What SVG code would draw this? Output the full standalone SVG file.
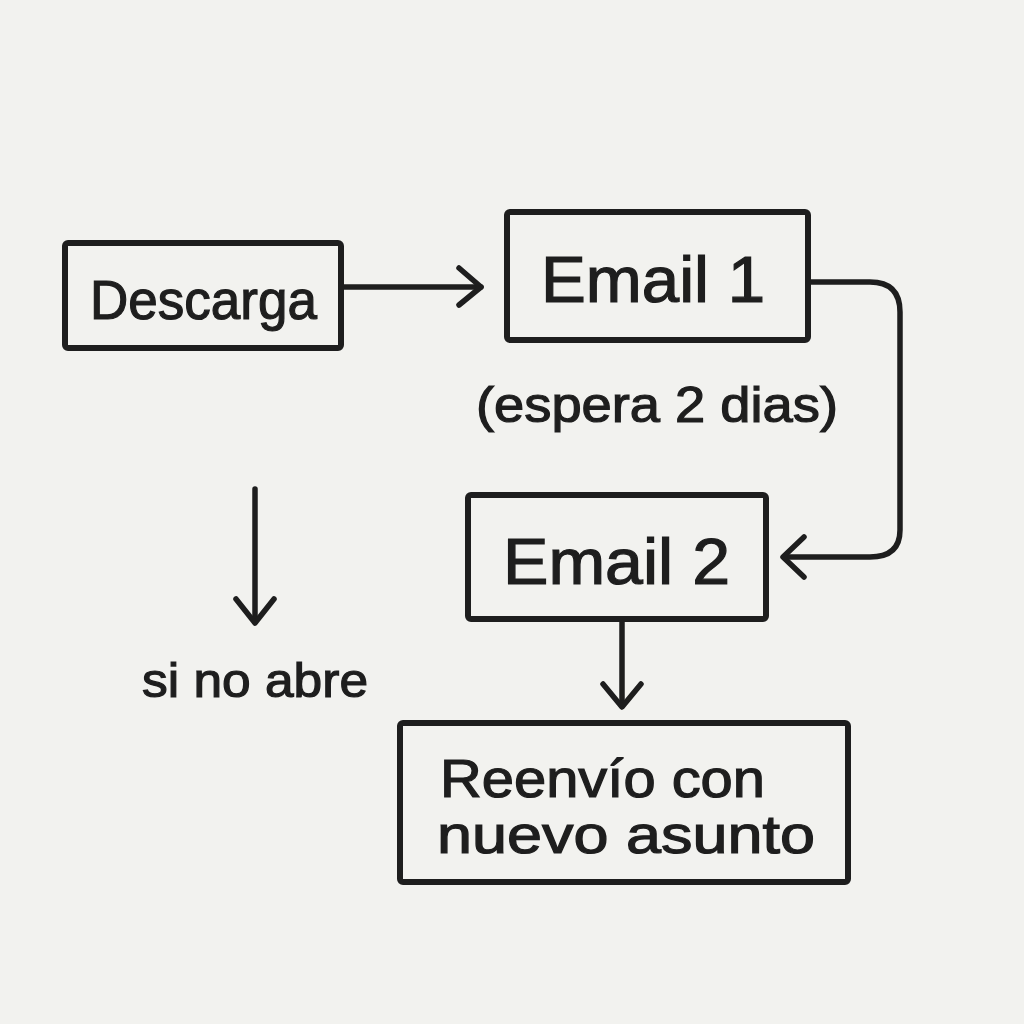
<svg xmlns="http://www.w3.org/2000/svg" width="1024" height="1024" viewBox="0 0 1024 1024">
<defs>
<style>
.box{fill:none;stroke:#1e1e1e;stroke-width:6;stroke-linejoin:round}
.line{fill:none;stroke:#1e1e1e;stroke-width:5.5;stroke-linecap:round;stroke-linejoin:round}
.tl{font-family:"Liberation Sans","Open Sans",sans-serif;fill:#1e1e1e;stroke:#1e1e1e;stroke-width:1.2;text-anchor:start}
</style>
</defs>
<rect width="1024" height="1024" fill="#f2f2ef"/>
<g id="connectors">
<path class="line" d="M341,287 L481,287"/>
<path class="line" d="M459,268 L481,287 L459,305"/>
<path class="line" d="M808,282 L870,282 Q900,282 900,312 L900,530 Q900,557 870,557 L784,557"/>
<path class="line" d="M804,537 L783,557 L804,577"/>
<path class="line" d="M622,621 L622,706"/>
<path class="line" d="M603,684 L622,707 L641,684"/>
<path class="line" d="M255,489 L255,622"/>
<path class="line" d="M236,599 L255,623 L274,599"/>
</g>
<g id="descarga">
<rect class="box" x="65" y="243" width="276" height="105" rx="3"/>
<text class="tl" x="90" y="319" font-size="55" textLength="227" lengthAdjust="spacingAndGlyphs">Descarga</text>
</g>
<g id="email1">
<rect class="box" x="507" y="212" width="301" height="128" rx="3"/>
<text class="tl" x="541" y="302" font-size="64" textLength="224" lengthAdjust="spacingAndGlyphs">Email 1</text>
</g>
<g id="espera">
<text class="tl" x="476" y="422" font-size="50" textLength="362" lengthAdjust="spacingAndGlyphs">(espera 2 dias)</text>
</g>
<g id="email2">
<rect class="box" x="468" y="495" width="298" height="124" rx="3"/>
<text class="tl" x="503" y="584" font-size="64" textLength="227" lengthAdjust="spacingAndGlyphs">Email 2</text>
</g>
<g id="sinoabre">
<text class="tl" x="142" y="697" font-size="48" textLength="226" lengthAdjust="spacingAndGlyphs">si no abre</text>
</g>
<g id="reenvio">
<rect class="box" x="400" y="723" width="448" height="159" rx="3"/>
<text class="tl" x="440" y="797" font-size="53" textLength="325" lengthAdjust="spacingAndGlyphs">Reenvío con</text>
<text class="tl" x="437" y="853" font-size="53" textLength="378" lengthAdjust="spacingAndGlyphs">nuevo asunto</text>
</g>
</svg>
